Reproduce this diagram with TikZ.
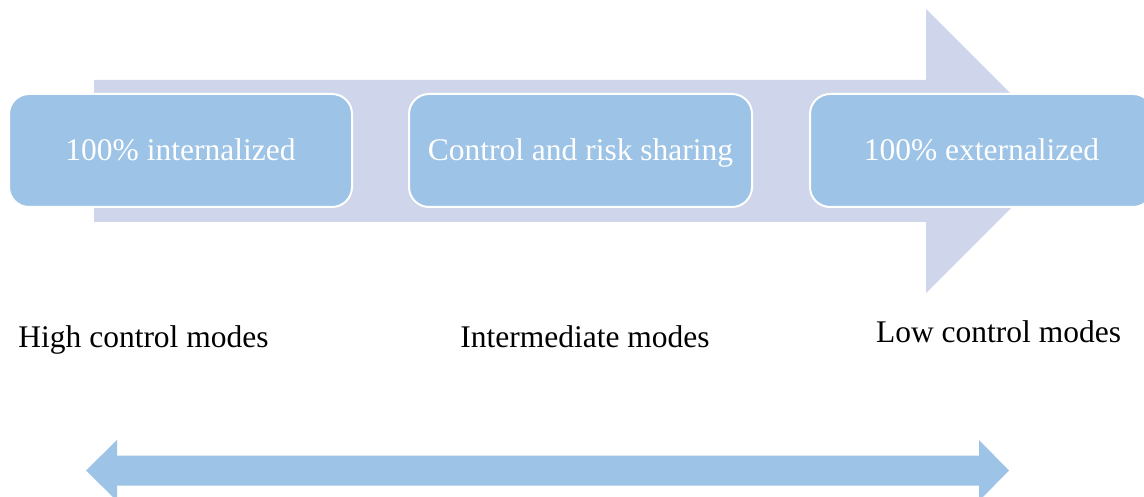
\documentclass[tikz,border=0pt]{standalone}
\usepackage{fontspec}
\setmainfont{Liberation Serif}
\definecolor{boxblue}{HTML}{9DC3E6}
\definecolor{lav}{HTML}{CFD5EA}
\begin{document}
\begin{tikzpicture}[x=1pt,y=-1pt,
  stagebox/.style={draw=white,line width=2pt,fill=boxblue,rounded corners=20pt,
    minimum width=343pt,minimum height=113pt,inner sep=0pt,text=white,
    text height=21pt,text depth=0pt,
    font=\fontsize{31.5}{38}\selectfont},
  modelabel/.style={text=black,inner sep=0pt,anchor=base,font=\fontsize{31.5}{38}\selectfont}]
\useasboundingbox (0,0) rectangle (1144,497);
\clip (0,0) rectangle (1144,497);
% big background arrow
\fill[lav] (94,80) -- (926,80) -- (926,9) -- (1068,151) -- (926,293) -- (926,222) -- (94,222) -- cycle;
% stage boxes
\node[stagebox] (b1) at (180.5,150.5) {100\% internalized};
\node[stagebox] (b2) at (580.5,150.5) {Control and risk sharing};
\node[stagebox] (b3) at (981.5,150.5) {100\% externalized};
% labels
\node[modelabel] (l1) at (143.5,347) {High control modes};
\node[modelabel] (l2) at (585,348) {Intermediate modes};
\node[modelabel] (l3) at (998.5,342) {Low control modes};
% double arrow
\fill[boxblue] (86,470.5) -- (117,440) -- (117,455.5) -- (979,455.5) -- (979,440) -- (1009,470.5) -- (979,501) -- (979,485.5) -- (117,485.5) -- (117,501) -- cycle;
\end{tikzpicture}
\end{document}
